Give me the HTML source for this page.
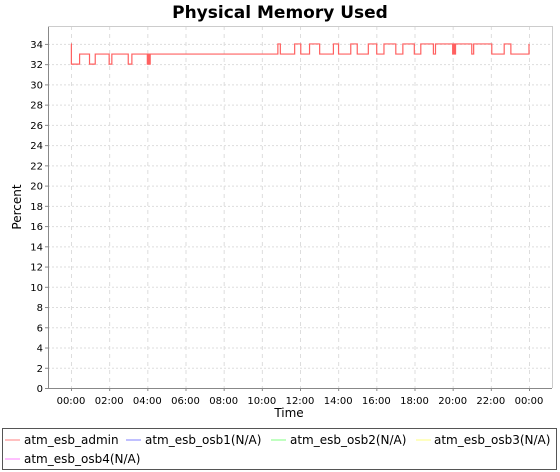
<!DOCTYPE html>
<html><head><meta charset="utf-8"><style>
html,body{margin:0;padding:0;background:#fff;}
svg{display:block;font-family:"DejaVu Sans","Liberation Sans",sans-serif;}
</style></head><body>
<svg id="chart" width="560" height="472">
<text x="280" y="18" text-anchor="middle" font-size="17" font-weight="bold">Physical Memory Used</text>
<g id="grid"></g>
<g id="axes"></g>
<g id="series"></g>
<text x="289" y="417" text-anchor="middle" font-size="12">Time</text>
<text transform="translate(21,207) rotate(-90)" text-anchor="middle" font-size="12">Percent</text>
<g>
<rect x="2.5" y="428.5" width="554" height="41" fill="#fff" stroke="#555" stroke-width="1"/>
<g><line x1="5" y1="440" x2="20" y2="440" stroke="#ff8080"/><text x="24" y="444" font-size="12">atm_esb_admin</text></g>
<g><line x1="126" y1="440" x2="141" y2="440" stroke="#8080ff"/><text x="145" y="444" font-size="12">atm_esb_osb1(N/A)</text></g>
<g><line x1="271" y1="440" x2="286" y2="440" stroke="#80ff80"/><text x="290" y="444" font-size="12">atm_esb_osb2(N/A)</text></g>
<g><line x1="416" y1="440" x2="431" y2="440" stroke="#ffff80"/><text x="434" y="444" font-size="12">atm_esb_osb3(N/A)</text></g>
<g><line x1="5" y1="459" x2="20" y2="459" stroke="#ff80ff"/><text x="24" y="463" font-size="12">atm_esb_osb4(N/A)</text></g>
</g>
</svg>
<script>
const yTicks = [0,2,4,6,8,10,12,14,16,18,20,22,24,26,28,30,32,34];
const xTickHours = [0,2,4,6,8,10,12,14,16,18,20,22,24];
const xTickLabels = ["00:00","02:00","04:00","06:00","08:00","10:00","12:00","14:00","16:00","18:00","20:00","22:00","00:00"];
const stepHours = [0,0.02,0.45,0.97,1.27,2.0,2.14,3.0,3.19,4.0,4.05,4.1,4.15,10.84,10.97,11.72,12.04,12.5,13.03,13.75,14.02,14.66,15.0,15.58,16.02,16.4,17.02,17.39,17.99,18.33,18.99,19.1,20.0,20.05,20.1,20.15,21.0,21.1,22.05,22.7,23.05,24.0];
const adminValues = [34,32,33,32,33,32,33,32,33,32,33,32,33,34,33,34,33,34,33,34,33,34,33,34,33,34,33,34,33,34,33,34,33,34,33,34,33,34,33,34,33,34];
const L=48,R=552,T=26,B=388,X0=71,X1=529;
const xs=h=>X0+(X1-X0)*h/24;
const ys=v=>B-v*10.12;
const NS="http://www.w3.org/2000/svg";
function mk(tag,attrs,parent){const e=document.createElementNS(NS,tag);for(const k in attrs)e.setAttribute(k,attrs[k]);parent.appendChild(e);return e;}
const grid=document.getElementById('grid'),axes=document.getElementById('axes'),ser=document.getElementById('series');
mk('rect',{x:L,y:T,width:R-L,height:B-T,fill:'#fff',stroke:'none'},grid);
yTicks.forEach(v=>{
 const g=mk('line',{x1:L,x2:R,y1:ys(v)+.5,y2:ys(v)+.5,stroke:'#ddd','stroke-dasharray':'2,2'},grid);
 
 
 mk('line',{x1:L-3,x2:L,y1:ys(v)+.5,y2:ys(v)+.5,stroke:'#888'},axes);
 const t=mk('text',{x:L-5,y:ys(v)+4,'text-anchor':'end','font-size':'10'},axes);
 t.textContent=v;
 
 
});
xTickHours.forEach((h,i)=>{
 const g=mk('line',{x1:xs(h)+.5,x2:xs(h)+.5,y1:T,y2:B,stroke:'#ddd','stroke-dasharray':'4,4'},grid);
 
 
 mk('line',{x1:xs(h)+.5,x2:xs(h)+.5,y1:B,y2:B+3,stroke:'#888'},axes);
 const t=mk('text',{x:xs(h),y:B+16,'text-anchor':'middle','font-size':'10'},axes);
 t.textContent=xTickLabels[i];
 
 
});
mk('line',{x1:L+.5,x2:L+.5,y1:T,y2:B,stroke:'#888'},axes);
mk('line',{x1:L,x2:R,y1:B+.5,y2:B+.5,stroke:'#888'},axes);
mk('line',{x1:L,x2:R,y1:T+.5,y2:T+.5,stroke:'#ccc'},axes);
mk('line',{x1:R+.5,x2:R+.5,y1:T,y2:B,stroke:'#ccc'},axes);
let d='';
stepHours.forEach((h,i)=>{
 const x=xs(h),y=ys(adminValues[i]);
 if(i===0)d+='M'+x+' '+y;
 else d+=' L'+x+' '+ys(adminValues[i-1])+' L'+x+' '+y;
});
const p=mk('path',{d:d,fill:'none',stroke:'#ff6060','stroke-width':'1.2'},ser);


</script>
</body></html>
